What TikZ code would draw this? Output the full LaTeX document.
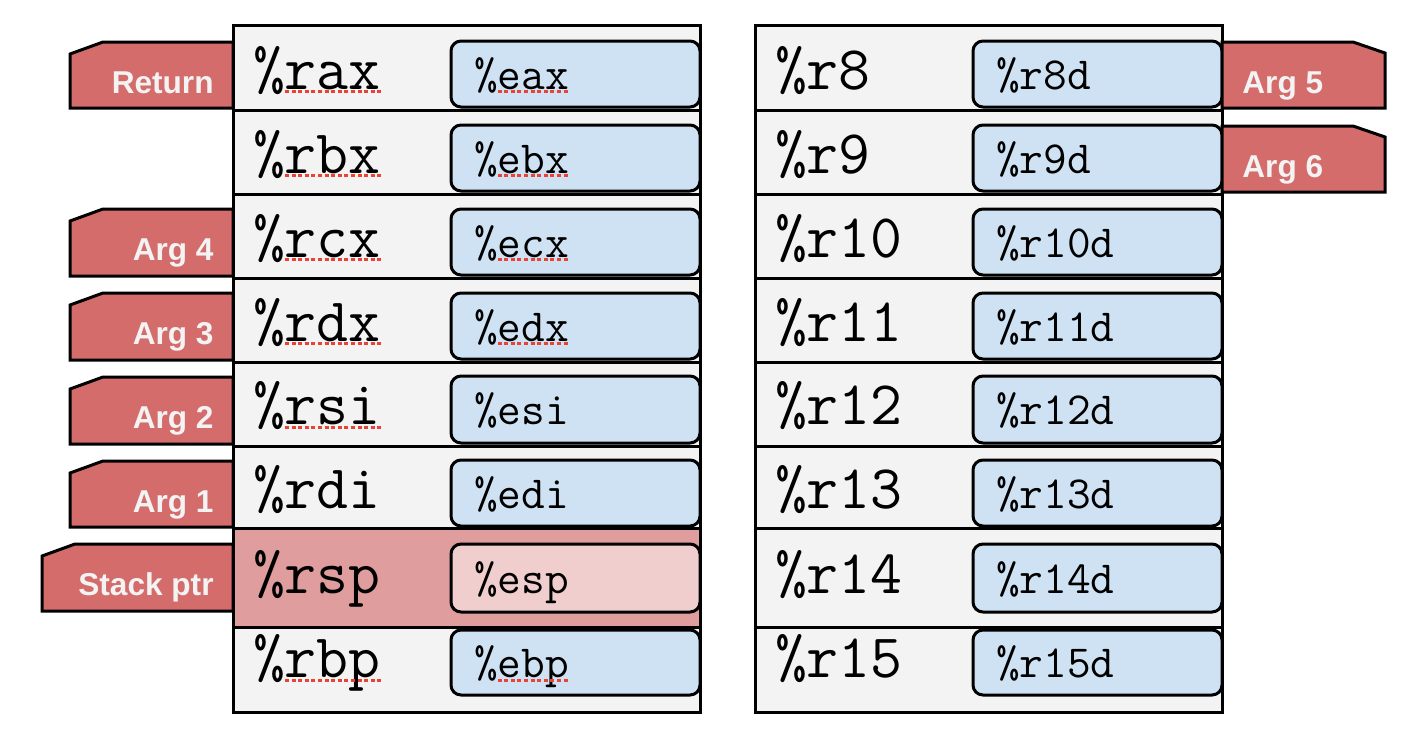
\documentclass[tikz,border=0pt]{standalone}
\usepackage{fontspec}
\newfontfamily\labelfont{Liberation Sans}
\usetikzlibrary{calc}
\definecolor{rowgray}{HTML}{F3F3F3}
\definecolor{subblue}{HTML}{CFE2F3}
\definecolor{tabred}{HTML}{D46C6B}
\definecolor{tabtxt}{HTML}{F3F3F3}
\definecolor{sprow}{HTML}{E09D9D}
\definecolor{spsub}{HTML}{F0CECE}
\definecolor{squig}{HTML}{EA4335}
\tikzset{
  rowbox/.style={draw=black, line width=1.5pt, fill=rowgray, anchor=north west, inner sep=0pt, outer sep=0pt},
  subbox/.style={draw=black, line width=1.5pt, fill=subblue, rounded corners=5pt, anchor=north west, inner sep=0pt, outer sep=0pt},
  bigreg/.style={font=\ttfamily\fontsize{31}{31}\selectfont, anchor=base west, inner sep=0pt, outer sep=0pt},
  smallreg/.style={font=\ttfamily\fontsize{23}{23}\selectfont, anchor=base west, inner sep=0pt, outer sep=0pt},
  tabshape/.style={draw=black, line width=1.5pt, fill=tabred, line join=miter},
  tabtext/.style={font=\labelfont\bfseries\fontsize{15.8}{15.8}\selectfont, text=tabtxt, inner sep=0pt},
  squiggle/.style={draw=squig, line width=1.6pt, dash pattern=on 2pt off 1.3pt},
  frame/.style={draw=black, line width=1.5pt}
}
% #1 name, #2 xleft, #3 ytop, #4 ybot, #5 subtop, #6 subbot, #7 big, #8 small, #9 row colour
\newcommand\subcol{subblue}
\newcommand\regrow[9]{%
  \pgfmathsetmacro\rh{(#4-#3)/2}%
  \pgfmathsetmacro\sh{(#6-#5)/2}%
  \pgfmathsetmacro\bl{(#5+#6)/2+15}%
  \node[rowbox, minimum width=233.5pt, minimum height=\rh pt, fill=#9] (#1) at (#2,#3) {};
  \node[subbox, minimum width=124.5pt, minimum height=\sh pt, fill=\subcol] (#1s) at (#2+218,#5) {};
  \node[bigreg] (#1t) at (#2+20,\bl) {\%#7};
  \node[smallreg] (#1st) at (#2+241,\bl) {\%#8};
}
\newcommand\regsquig[1]{\draw[squiggle] ([yshift=-1.4pt]$(#1.base west)!0.25!(#1.base east)$) -- ([yshift=-1.4pt]#1.base east);}
% #1 name, #2 xleft, #3 ytop, #4 ybot, #5 text
\newcommand\lefttab[5]{%
  \pgfmathsetmacro\tb{(#3+#4)/2+18}%
  \draw[tabshape] (233,#3) -- (#2+33,#3) -- (#2,#3+12) -- (#2,#4) -- (233,#4) -- cycle;
  \node[tabtext, anchor=base east] (#1) at (214,\tb) {#5};
}
\newcommand\righttab[4]{%
  \pgfmathsetmacro\tb{(#2+#3)/2+18}%
  \draw[tabshape] (1222,#2) -- (1353,#2) -- (1385,#2+11) -- (1385,#3) -- (1222,#3) -- cycle;
  \node[tabtext, anchor=base west] (#1) at (1242,\tb) {#4};
}
\begin{document}
\begin{tikzpicture}[x=0.5pt,y=-0.5pt]
\useasboundingbox (0,0) rectangle (1418,736);
% left column
\regrow{rax}{233}{25}{110}{41}{107}{rax}{eax}{rowgray}
\regrow{rbx}{233}{110}{194}{125}{191}{rbx}{ebx}{rowgray}
\regrow{rcx}{233}{194}{278}{209}{275}{rcx}{ecx}{rowgray}
\regrow{rdx}{233}{278}{362}{293}{359}{rdx}{edx}{rowgray}
\regrow{rsi}{233}{362}{446}{376}{443}{rsi}{esi}{rowgray}
\regrow{rdi}{233}{446}{528}{460}{526}{rdi}{edi}{rowgray}
\renewcommand\subcol{spsub}
\regrow{rsp}{233}{528}{627}{544}{612}{rsp}{esp}{sprow}
\renewcommand\subcol{subblue}
\regrow{rbp}{233}{627}{712}{630}{695}{rbp}{ebp}{rowgray}
% right column
\regrow{r8}{755}{25}{110}{41}{107}{r8}{r8d}{rowgray}
\regrow{r9}{755}{110}{194}{125}{191}{r9}{r9d}{rowgray}
\regrow{r10}{755}{194}{278}{209}{275}{r10}{r10d}{rowgray}
\regrow{r11}{755}{278}{362}{293}{359}{r11}{r11d}{rowgray}
\regrow{r12}{755}{362}{446}{376}{443}{r12}{r12d}{rowgray}
\regrow{r13}{755}{446}{528}{460}{526}{r13}{r13d}{rowgray}
\regrow{r14}{755}{528}{627}{544}{612}{r14}{r14d}{rowgray}
\regrow{r15}{755}{627}{712}{630}{695}{r15}{r15d}{rowgray}
% column frames on top
\draw[frame] (rax.north west) rectangle (rbp.south east);
\draw[frame] (r8.north west) rectangle (r15.south east);
% spelling squiggles
\regsquig{raxt}\regsquig{rbxt}\regsquig{rcxt}\regsquig{rdxt}\regsquig{rsit}\regsquig{rbpt}
\regsquig{raxst}\regsquig{rbxst}\regsquig{rcxst}\regsquig{rdxst}\regsquig{rbpst}
% tabs
\lefttab{ret}{70}{42}{108}{Return}
\lefttab{arg4}{70}{209}{276}{Arg 4}
\lefttab{arg3}{70}{293}{360}{Arg 3}
\lefttab{arg2}{70}{377}{444}{Arg 2}
\lefttab{arg1}{70}{461}{527}{Arg 1}
\lefttab{sptr}{42}{544}{611}{Stack ptr}
\righttab{arg5}{42}{108}{Arg 5}
\righttab{arg6}{126}{192}{Arg 6}
\end{tikzpicture}
\end{document}
